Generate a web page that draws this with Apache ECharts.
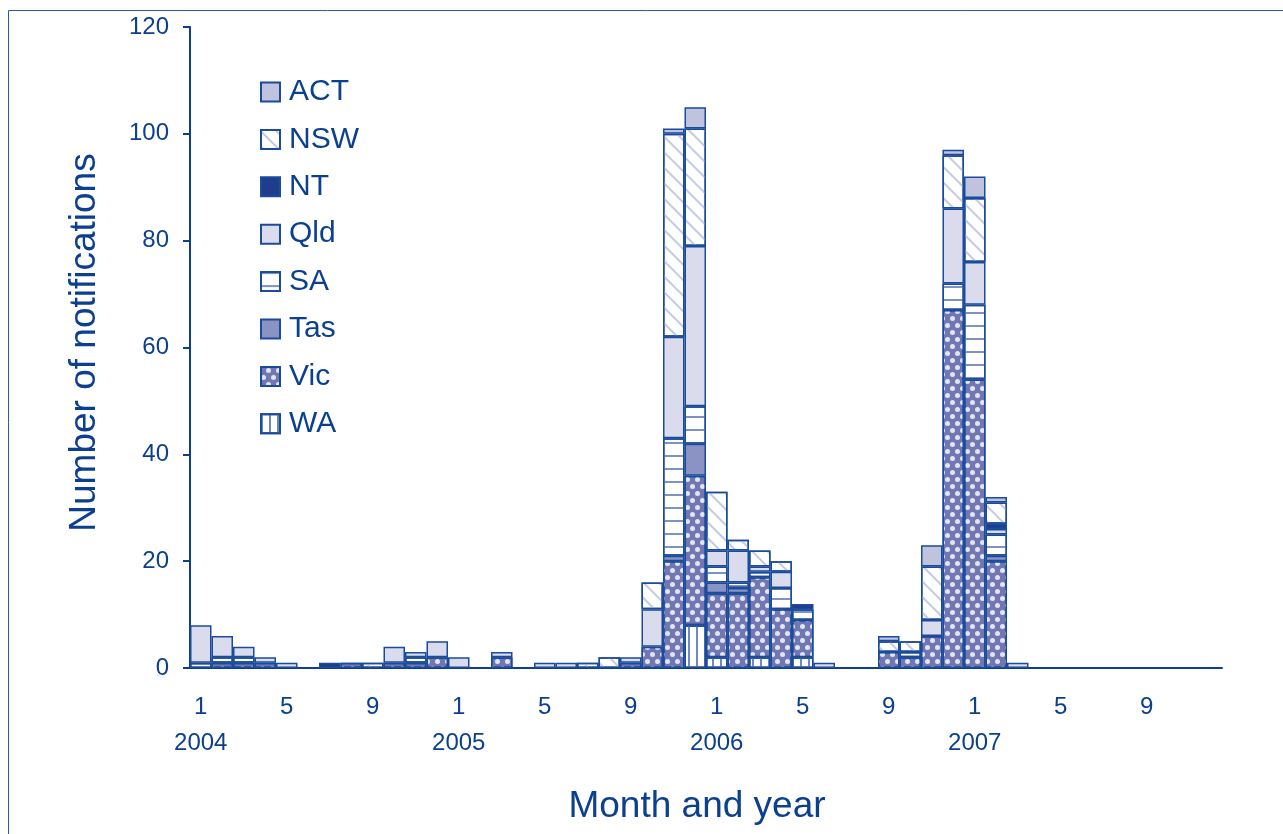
<!DOCTYPE html>
<html><head><meta charset="utf-8">
<script src="https://cdn.jsdelivr.net/npm/echarts@6/dist/echarts.min.js"></script>
<style>html,body{margin:0;padding:0;background:#fff}#c{width:1283px;height:834px}</style>
</head><body><div id="c"></div>
<script>
const years = [2004, 2005, 2006, 2007];
const monthNums = [1,2,3,4,5,6,7,8,9,10,11,12];
const shownMonths = [1, 5, 9];
const categories = [];
years.forEach(y => monthNums.forEach(m => categories.push(y + '-' + m)));

// values per month, Jan 2004 .. Dec 2007 (one line per year)
const WA = [
  0,0,0,0,0,0,0,0,0,0,0,0,
  0,0,0,0,0,0,0,0,0,0,0,8,
  2,0,2,0,2,0,0,0,0,0,0,0,
  0,0,0,0,0,0,0,0,0,0,0,0];
const Vic = [
  0,1,1,1,0,0,0,1,0,1,1,2,
  0,0,2,0,0,0,0,0,1,4,20,28,
  12,14,15,11,7,0,0,0,3,2,6,67,
  54,20,0,0,0,0,0,0,0,0,0,0];
const Tas = [
  0,0,0,0,0,0,0,0,0,0,0,0,
  0,0,0,0,0,0,0,0,0,0,1,6,
  2,1,0,0,0,0,0,0,0,0,0,0,
  0,1,0,0,0,0,0,0,0,0,0,0];
const SA = [
  1,1,1,0,0,0,0,0,0,0,1,0,
  0,0,0,0,0,0,0,0,0,0,22,7,
  3,1,1,4,2,0,0,0,0,1,0,5,
  14,4,0,0,0,0,0,0,0,0,0,0];
const Qld = [
  7,4,2,1,1,0,0,0,0,3,1,3,
  2,0,1,0,1,1,0,0,1,7,19,30,
  3,6,1,3,0,1,0,0,0,0,3,14,
  8,1,1,0,0,0,0,0,0,0,0,0];
const NT = [
  0,0,0,0,0,0,1,0,0,0,0,0,
  0,0,0,0,0,0,0,0,0,0,0,0,
  0,0,0,0,1,0,0,0,0,0,0,0,
  0,1,0,0,0,0,0,0,0,0,0,0];
const NSW = [
  0,0,0,0,0,0,0,0,1,0,0,0,
  0,0,0,0,0,0,1,2,0,5,38,22,
  11,2,3,2,0,0,0,0,2,2,10,10,
  12,4,0,0,0,0,0,0,0,0,0,0];
const ACT = [
  0,0,0,0,0,0,0,0,0,0,0,0,
  0,0,0,0,0,0,0,0,0,0,1,4,
  0,0,0,0,0,0,0,0,1,0,4,1,
  4,1,0,0,0,0,0,0,0,0,0,0];

const legendOrder = ['ACT','NSW','NT','Qld','SA','Tas','Vic','WA'];
const yTicks = [0, 20, 40, 60, 80, 100, 120];

const navy = '#0b3f8f';
const edge = '#1b4b9b';
const styles = {
  WA:  {color:'#ffffff', decal:{symbol:'rect', dashArrayX:[2,6], dashArrayY:[1,0], color:'#7088c0'}},
  Vic: {color:'#7177b3', decal:{symbol:'circle', symbolSize:1, dashArrayX:[[5,5],[0,5,5,0]], dashArrayY:[7,0], color:'rgba(255,255,255,0.8)'}},
  Tas: {color:'#8b93c4'},
  SA:  {color:'#ffffff', decal:{symbol:'rect', dashArrayX:[1,0], dashArrayY:[2,11], color:'#7d93c6'}},
  Qld: {color:'#dadced'},
  NT:  {color:'#1f3d8c'},
  NSW: {color:'#ffffff', decal:{symbol:'rect', dashArrayX:[1,0], dashArrayY:[1.5,9], rotation:Math.PI/4, color:'#c3cbe2'}},
  ACT: {color:'#bfc3de'}
};
const stackData = {WA, Vic, Tas, SA, Qld, NT, NSW, ACT};
const stackOrder = ['WA','Vic','Tas','SA','Qld','NT','NSW','ACT'];

const series = stackOrder.map(name => ({
  name, type:'bar', stack:'total', barCategoryGap:'0%',
  data: stackData[name].map(v => v === 0 ? '-' : v),
  itemStyle: Object.assign({borderColor: edge, borderWidth: 1.5}, styles[name]),
  emphasis:{disabled:true}
}));

const chart = echarts.init(document.getElementById('c'));
chart.setOption({
  animation:false,
  textStyle:{fontFamily:'Liberation Sans, Arial, sans-serif', color:navy},
  grid:{left:190, right:61, top:27, bottom:166},
  legend:{
    data: legendOrder, orient:'vertical', left:255, top:72,
    itemWidth:19, itemHeight:19, itemGap:17.4, icon:'rect',
    textStyle:{fontSize:30, color:navy, lineHeight:30, padding:[0,0,0,4]}
  },
  xAxis:{
    type:'category', data:categories,
    name:'Month and year', nameLocation:'middle', nameGap:120,
    nameTextStyle:{fontSize:37, color:navy, padding:[0,18,0,0]},
    axisLine:{lineStyle:{color:navy, width:2}},
    axisTick:{interval:0, length:8, lineStyle:{color:navy, width:2}},
    axisLabel:{
      interval:0, margin:21, fontSize:24, color:navy, lineHeight:36,
      formatter: v => {
        const p = v.split('-'); const m = +p[1];
        if (shownMonths.indexOf(m) < 0) return '';
        return m === 1 ? m + '\n' + p[0] : String(m);
      }
    }
  },
  yAxis:{
    type:'value', min:yTicks[0], max:yTicks[yTicks.length-1], interval:20,
    name:'Number of notifications', nameLocation:'middle', nameGap:87, nameRotate:90,
    nameTextStyle:{fontSize:37, color:navy, padding:[0,0,0,10]},
    axisLine:{show:true, lineStyle:{color:navy, width:2}},
    axisTick:{show:true, length:7, lineStyle:{color:navy, width:2}},
    axisLabel:{fontSize:24, color:navy, margin:21},
    splitLine:{show:false}
  },
  graphic:[{type:'rect', shape:{x:8.5, y:10.5, width:1300, height:900}, style:{fill:'none', stroke:'#2a5aa8', lineWidth:1}, silent:true, z:-1}],
  series
});
</script></body></html>
